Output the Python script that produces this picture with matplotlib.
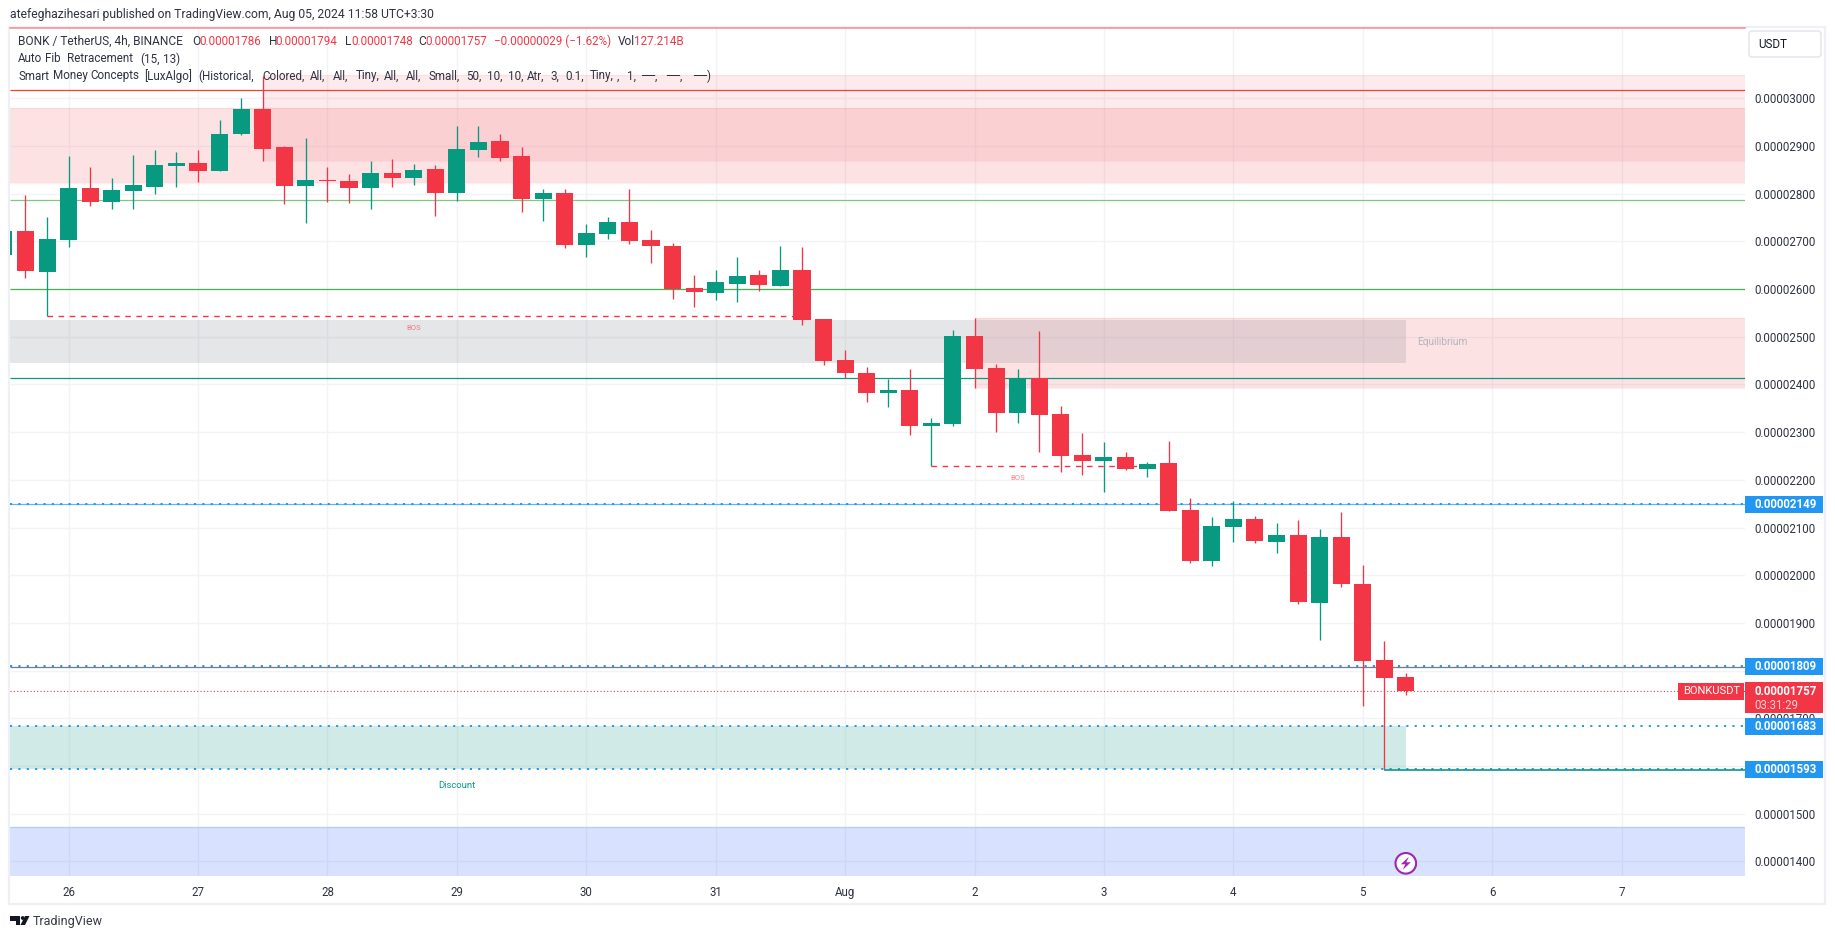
import numpy as np
import matplotlib
matplotlib.use("Agg")
import matplotlib.pyplot as plt
from matplotlib.patches import Rectangle, FancyBboxPatch, Circle, Polygon

W, H = 1835, 939
FONT = "Roboto"
plt.rcParams["font.family"] = [FONT, "DejaVu Sans"]

# prices in units of 1e-8 USDT, one value per 4h candle, starting 3 bars before the "26" tick
opens = [2671,2722,2636,2703,2812,2783,2806,2814,2858,2864,2848,2925,2978,2898,2816,2829,2827,2812,2843,2833,2852,2802,
         2892,2911,2879,2789,2802,2692,2716,2741,2703,2690,2602,2592,2611,2630,2606,2640,2537,2451,2424,2382,2388,2313,
         2317,2502,2434,2340,2413,2338,2252,2239,2248,2223,2235,2137,2030,2101,2118,2070,2084,1942,2080,1981,1822,1786]
highs = [2735,2797,2751,2879,2856,2833,2881,2892,2887,2892,2955,3001,3047,2900,2917,2856,2841,2869,2873,2862,2860,2942,
         2942,2925,2898,2810,2810,2737,2751,2810,2724,2697,2630,2640,2667,2640,2690,2688,2537,2472,2437,2411,2432,2330,
         2514,2539,2443,2432,2512,2355,2298,2279,2258,2237,2281,2162,2122,2156,2124,2109,2116,2097,2132,2021,1862,1794]
lows  = [2660,2623,2544,2688,2774,2768,2768,2799,2814,2825,2848,2923,2869,2778,2739,2783,2781,2768,2814,2818,2753,2785,
         2877,2869,2762,2743,2686,2667,2705,2695,2655,2579,2562,2577,2573,2596,2606,2525,2441,2413,2363,2353,2294,2228,
         2313,2393,2300,2319,2258,2216,2210,2174,2221,2206,2135,2026,2019,2070,2067,2047,1940,1864,1975,1726,1593,1748]
closes= [2722,2638,2705,2812,2783,2808,2818,2860,2864,2848,2925,2978,2894,2816,2829,2827,2812,2843,2833,2850,2802,2894,
         2908,2875,2789,2802,2692,2718,2741,2701,2690,2600,2594,2615,2627,2609,2640,2535,2449,2424,2382,2388,2313,2319,
         2502,2432,2340,2413,2336,2250,2239,2248,2223,2233,2135,2030,2103,2118,2072,2084,1944,2080,1981,1820,1784,1757]
first_bar = -3

day_labels = ["26","27","28","29","30","31","Aug","2","3","4","5","6","7"]
bars_per_day = 6
price_grid = [1400,1500,1600,1700,1800,1900,2000,2100,2200,2300,2400,2500,2600,2700,2800,2900,3000]
price_labels = [1400,1500,1700,1900,2000,2100,2200,2300,2400,2500,2600,2700,2800,2900,3000]
level_labels = [2149, 1809, 1683, 1593]
last_close = 1757

red = "#f23645"
green = "#089981"
blue = "#2196f3"
grid = "#f2f3f6"

def fx(x): return x / W
def fy(y): return 1 - y / H

fig = plt.figure(figsize=(W / 100, H / 100), dpi=100, facecolor="white")
L, R, T, B = 10, 1745, 28, 876
ax = fig.add_axes([fx(L), fy(B), (R - L) / W, (B - T) / H])
ax.set_xlim((L - 68.6) / 21.57, (R - 68.6) / 21.57)
ax.set_ylim(3000 - (B - 98.3) / 0.4769, 3000 + (98.3 - T) / 0.4769)

# grid
tick_bars = np.arange(len(day_labels)) * bars_per_day
ax.vlines(tick_bars, *ax.get_ylim(), color=grid, lw=1, zorder=0)
ax.hlines(price_grid, *ax.get_xlim(), color=grid, lw=1, zorder=0)
x0, x1 = ax.get_xlim()

def zone(xa, xb, pa, pb, color, alpha, edge=True):
    ax.add_patch(Rectangle((xa, pb), xb - xa, pa - pb, fc=color, alpha=alpha, ec="none", zorder=1))
    if edge:
        ax.hlines([pa, pb], xa, xb, color=color, alpha=alpha * 0.5, lw=1, zorder=1)

bar9, bar42, bar62 = 9, 42, 62
zone(x0, x1, 2979, 2822, red, 0.14)
zone(bar9, x1, 3048, 2869, red, 0.10)
zone(bar42, x1, 2539, 2393, red, 0.14)
zone(x0, bar62, 2535, 2446, "#787b86", 0.19, edge=False)
zone(x0, bar62, 1683, 1593, green, 0.19, edge=False)
zone(x0, x1, 1471, ax.get_ylim()[0], "#2962ff", 0.18, edge=False)
ax.hlines(1471, x0, x1, color="#b9cdf8", lw=1, zorder=1)

# horizontal levels
ax.hlines(3017, x0, x1, color="#f44336", lw=0.9, zorder=2)
ax.hlines(2786, x0, x1, color="#81c784", lw=0.9, zorder=2)
ax.hlines(2600, x0, x1, color="#4caf50", lw=0.9, zorder=2)
ax.hlines(2413, x0, x1, color=green, lw=0.9, zorder=2)
ax.hlines(2148.5, x0, x1, color="#64b5f6", lw=0.9, zorder=2)
ax.hlines(1808, x0, x1, color="#787b86", lw=0.9, zorder=2)
for lv in level_labels:
    ax.hlines(lv + (1 if lv in (2149, 1809) else 0), x0, x1, color=blue, lw=1.4, linestyles=(0, (1.1, 3.2)), zorder=3)
ax.hlines(1591, 61, x1, color=green, lw=1.2, zorder=3)
ax.hlines(last_close, x0, x1, color=red, lw=0.8, linestyles=(0, (1, 2)), zorder=3)

# structure breaks
ax.hlines(2544, -1, 34, color=red, lw=1, linestyles=(0, (4, 4)), zorder=3)
ax.hlines(2228, 40, 50, color=red, lw=1, linestyles=(0, (4, 4)), zorder=3)
ax.text(16, 2518, "BOS", color=red, alpha=0.6, fontsize=5.5, ha="center", va="center", zorder=3)
ax.text(44.0, 2204, "BOS", color=red, alpha=0.6, fontsize=5.5, ha="center", va="center", zorder=3)
ax.text(63.7, 2490, "Equilibrium", color="#b2b5be", fontsize=7.3, ha="center", va="center", zorder=3)
ax.text(18, 1560, "Discount", color=green, fontsize=6.8, ha="center", va="center", zorder=3)

# candles
idx = np.arange(len(opens)) + first_bar
o, h, l, c = map(np.array, (opens, highs, lows, closes))
col = np.where(c >= o, green, red)
ax.vlines(idx, l, h, colors=col, lw=0.95, zorder=5)
ax.bar(idx, np.abs(c - o), bottom=np.minimum(o, c), width=0.79, color=col, lw=0, zorder=6)

for s in ax.spines.values():
    s.set_visible(False)
ax.spines["top"].set_visible(True)
ax.spines["top"].set_color("#ee8a94")
ax.spines["top"].set_linewidth(1.1)
ax.spines["top"].set_zorder(8)
ax.set_xticks(tick_bars)
ax.set_xticklabels(day_labels, fontsize=8.3, color="#2f3241")
ax.tick_params(axis="x", length=0, pad=7)
ax.set_yticks(price_labels)
ax.set_yticklabels([f"{p * 1e-8:.8f}" for p in price_labels], fontsize=8.3, color="#2f3241")
ax.yaxis.tick_right()
ax.tick_params(axis="y", length=0, pad=6.5)

# outer frame
fig.add_artist(Rectangle((fx(9), fy(904)), (1825 - 9) / W, (904 - 27) / H, transform=fig.transFigure,
                         fc="none", ec="#eef0f5", lw=1.6, zorder=0))

def tx(x, y, s, color="#2f3241", size=8.3, weight="normal", ha="left", zorder=20):
    return fig.text(fx(x), fy(y), s, color=color, fontsize=size, fontweight=weight, ha=ha, va="center", zorder=zorder)

# header and legend
tx(10, 14.7, "atefeghazihesari published on TradingView.com, Aug 05, 2024 11:58 UTC+3:30", size=8.7)
tx(18, 41.7, "BONK / TetherUS, 4h, BINANCE", size=8.6)
for xp, lab, xv, val in [(192, "O", 199, "0.00001786"), (268.7, "H", 275.7, "0.00001794"),
                         (344.7, "L", 351, "0.00001748"), (418.7, "C", 425.7, "0.00001757"),
                         (617.7, "Vol", 634, "127.214B")]:
    tx(xp, 41.7, lab, size=8.6)
    tx(xv, 41.7, val, color=red, size=8.4)
tx(494, 41.7, "\u22120.00000029 (\u22121.62%)", color=red, size=8.4)

fib_words = [(18, "Auto"), (45, "Fib"), (67.3, "Retracement"), (140.3, "(15,"), (163, "13)")]
smc_words = [(18, "Smart"), (53, "Money"), (90.7, "Concepts"), (144, "[LuxAlgo]"), (198.3, "(Historical,"),
             (262, "Colored,"), (309.7, "All,"), (333.3, "All,"), (355.7, "Tiny,"), (384, "All,"), (406, "All,"),
             (428.7, "Small,"), (466, "50,"), (487.3, "10,"), (508, "10,"), (527.3, "Atr,"), (550.7, "3,"),
             (565, "0.1,"), (590, "Tiny,"), (617, ","), (627.3, "1,"), (641, "\u2500\u2500,"), (666, "\u2500\u2500,"),
             (693.3, "\u2500\u2500)")]
for xw, word in fib_words:
    tx(xw, 59, word, size=8.4)
for xw, word in smc_words:
    tx(xw, 76, word, size=8.4)

# USDT button
fig.add_artist(FancyBboxPatch((1749, H - 57), 72, 26, boxstyle="round,pad=0,rounding_size=3", transform=None,
                              fc="white", ec="#e6e8ee", lw=1.2, zorder=15))
tx(1758, 44.5, "USDT", color="#131722", size=8.4)

# price labels
py = lambda p: 98.3 + (3000 - p) * 0.4769
for lv in level_labels:
    yc = py(lv)
    fig.add_artist(Rectangle((fx(1745), fy(yc + 8.5)), 78 / W, 17 / H, transform=fig.transFigure, fc=blue, ec="none", zorder=18))
    tx(1754, yc + 0.3, f"{lv * 1e-8:.8f}", color="white", weight="bold", size=8.3)
yc = py(last_close)
fig.add_artist(Rectangle((fx(1745), fy(yc + 22)), 78 / W, 31 / H, transform=fig.transFigure, fc=red, ec="none", zorder=19))
fig.add_artist(Rectangle((fx(1678), fy(yc + 8.5)), 66 / W, 17 / H, transform=fig.transFigure, fc=red, ec="none", zorder=19))
tx(1683, yc + 0.2, "BONKUSDT", color="white", size=8.0)
tx(1754, yc + 0.2, f"{last_close * 1e-8:.8f}", color="white", weight="bold", size=8.3)
tx(1754, yc + 14, "03:31:29", color="#fbd0d4", size=8.3)

# event marker
mx, my = 1405.8, H - 863.3
fig.add_artist(Circle((mx, my), 10.3, transform=None, fc="white", ec="#9c27b0", lw=1.5, zorder=18))
bolt = [(3, 6.5), (-5, -1), (-0.5, -1), (-3, -6.5), (5, 1), (0.5, 1)]
fig.add_artist(Polygon([(mx + a, my + b) for a, b in bolt], closed=True, transform=None, fc="#9c27b0", ec="none", zorder=19))

# brand
tx(33, 921, "TradingView", color="#363a45", size=9)
def logo_poly(pts):
    fig.add_artist(Polygon([(a, H - b) for a, b in pts], closed=True, transform=None, fc="#131722", ec="none", zorder=20))
logo_poly([(10, 916), (20, 916), (20, 925), (15.5, 925), (15.5, 920.5), (10, 920.5)])
logo_poly([(25, 916), (29.5, 916), (25, 925), (20.5, 925)])
fig.add_artist(Circle((22.7, H - 918), 1.9, transform=None, fc="#131722", ec="none", zorder=20))

fig.savefig("out.png", dpi=100)
